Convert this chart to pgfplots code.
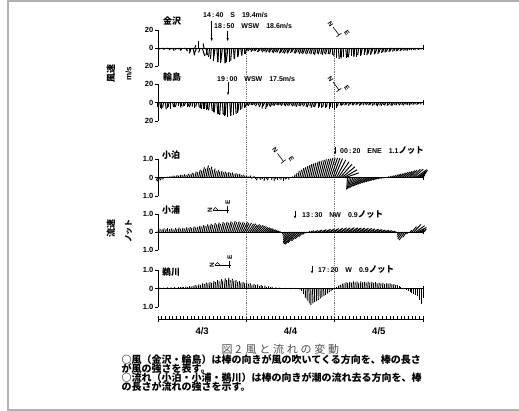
\documentclass[border=0pt]{standalone}
\usepackage{fontspec}
\usepackage{pgfplots}
\usepackage{pgfplotstable}
\pgfplotsset{compat=1.18}
\usetikzlibrary{arrows.meta}
\setmainfont{Liberation Sans}
\newfontfamily\jp{Noto Sans CJK JP}
\definecolor{framegray}{gray}{0.7}
\definecolor{dashgray}{gray}{0.45}
\definecolor{capgray}{gray}{0.3}

% t [h from 4/3 0:00], u (display east-west comp.), v (display north-south comp.)
\pgfplotstableread[row sep=\\]{
t u v\\
0 0.5 -1\\ 0.5 -0.5 -1.5\\ 1 1 -0.8\\ 1.5 0.5 -2\\ 2 -1 -1.2\\ 2.5 1 -1\\ 3 0.5 -2.5\\ 3.5 -0.5 -1.5\\
4 1.5 -3\\ 4.5 0.5 -1\\ 5 -1 -2\\ 5.5 1 -1.5\\ 6 0.5 -3\\ 6.5 -1 -2.5\\ 7 1 -1\\ 7.5 2 -3.5\\
8 -1 -2\\ 8.5 1 -4\\ 9 -2 -6\\ 9.5 2 -8\\ 10 1 3\\ 10.5 -3 -7\\ 11 0 7.5\\ 11.5 -2 -5\\
12 3 -9\\ 12.5 -1 5\\ 13 2 -8\\ 13.5 -2 -8\\ 14 -1 -10\\ 14.5 -1 -12\\ 15 0 -13.5\\ 15.5 -2 -14.5\\
16 1 -15.5\\ 16.5 -1 -16\\ 17 0 -16.5\\ 17.5 -2 -16.5\\ 18 1 -17\\ 18.5 -1 -16.5\\ 19 -2 -16\\ 19.5 0 -15.5\\
20 -1 -14\\ 20.5 1 -12.5\\ 21 -1 -11.5\\ 21.5 0 -10.5\\ 22 -1 -9.5\\ 22.5 1 -8.5\\ 23 -1 -8\\ 23.5 0 -7\\
24 -1 -6.5\\ 24.5 -2 -3\\ 25 -2.5 -3.5\\ 25.5 -1.5 -2.5\\ 26 -3 -4\\ 26.5 -2 -3\\ 27 -3 -3.5\\ 27.5 -2 -4.5\\
28 -3.5 -4\\ 28.5 -2 -3\\ 29 -3 -4.5\\ 29.5 -2.5 -3.5\\ 30 -3 -5\\ 30.5 -2 -4\\ 31 -3.5 -5\\ 31.5 -2 -4.5\\
32 -3 -5.5\\ 32.5 -2.5 -4.5\\ 33 -3 -5\\ 33.5 -2 -6\\ 34 -3 -5\\ 34.5 -2.5 -5.5\\ 35 -3 -6\\ 35.5 -2 -5\\
36 -3.5 -6\\ 36.5 -2 -5.5\\ 37 -3 -4.5\\ 37.5 -2 -5.5\\ 38 -3 -6\\ 38.5 -2 -5\\ 39 -2.5 -6.5\\ 39.5 -2 -5.5\\
40 -3 -6.5\\ 40.5 -2 -6\\ 41 -2.5 -7\\ 41.5 -1.5 -6\\ 42 -2 -7\\ 42.5 -1 -6.5\\ 43 -2 -7.5\\ 43.5 -1 -6\\
44 -2 -7\\ 44.5 -1 -6.5\\ 45 -1.5 -7.5\\ 45.5 -1 -6\\ 46 -2 -7\\ 46.5 -1 -6.5\\ 47 -1.5 -7\\ 47.5 0 -8\\
48 -1 -9\\ 48.5 0 -11\\ 49 1 -12\\ 49.5 0 -10.5\\ 50 -1 -11.5\\ 50.5 0 -10\\ 51 1 -11\\ 51.5 0 -9.5\\
52 -1 -10.5\\ 52.5 0 -9\\ 53 1 -10\\ 53.5 -1 -8.5\\ 54 0 -9.5\\ 54.5 -1 -8\\ 55 0 -9\\ 55.5 -1.5 -7.5\\
56 0 -8\\ 56.5 -2 -7\\ 57 -1 -8\\ 57.5 -2 -6.5\\ 58 -1 -7.5\\ 58.5 -2.5 -6\\ 59 -1 -7\\ 59.5 -2 -6\\
60 -1 -6.5\\ 60.5 -2 -5\\ 61 -1 -5.5\\ 61.5 -2 -4.5\\ 62 -1.5 -5\\ 62.5 -2 -4\\ 63 -1 -4.5\\ 63.5 -2 -3.5\\
64 -1 -4\\ 64.5 -1.5 -3\\ 65 -1 -3.5\\ 65.5 -2 -3\\ 66 -1 -3.5\\ 66.5 -1.5 -2.5\\ 67 -1 -3\\ 67.5 -1 -2.5\\
68 -1.5 -3\\ 68.5 -1 -2\\ 69 -1 -2.5\\ 69.5 -0.5 -2\\ 70 -1 -2.5\\ 70.5 -0.5 -1.5\\ 71 -1 -2\\ 71.5 -0.5 -1.5\\
72 -0.5 -1\\
}\tabK

\pgfplotstableread[row sep=\\]{
t u v\\
0 0 -5\\ 0.5 1 -6\\ 1 0 -7\\ 1.5 -1 -5.5\\ 2 1 -7.5\\ 2.5 0 -6\\ 3 -1 -5\\ 3.5 0 -6.5\\
4 1 -5\\ 4.5 0 -4.5\\ 5 -1 -5\\ 5.5 0 -4\\ 6 1 -5.5\\ 6.5 0 -4\\ 7 -1 -4.5\\ 7.5 -1.5 -3.5\\
8 0 -5\\ 8.5 -1 -4\\ 9 -2 -5\\ 9.5 -1 -4.5\\ 10 0 -6\\ 10.5 -1 -4.5\\ 11 1 -5.5\\ 11.5 0 -6\\
12 -1 -7\\ 12.5 0 -6.5\\ 13 1 -8\\ 13.5 0 -7\\ 14 -1 -8.5\\ 14.5 1 -9\\ 15 0 -10.5\\ 15.5 -1 -11\\
16 1 -12.5\\ 16.5 0 -12\\ 17 -1 -13.5\\ 17.5 1 -13\\ 18 0 -14.5\\ 18.5 -1 -14\\ 19 0 -15.5\\ 19.5 1 -14\\
20 -1 -14.5\\ 20.5 0 -13\\ 21 1 -12.5\\ 21.5 0 -11\\ 22 -1 -9.5\\ 22.5 0 -8\\ 23 -1 -6.5\\ 23.5 0 -5.5\\
24 -1 -5\\ 24.5 -1.5 -3\\ 25 -2 -3.5\\ 25.5 -1 -2.5\\ 26 -2 -3\\ 26.5 -1.5 -2.5\\ 27 -2 -4\\ 27.5 -1 -3\\
28 -2 -5\\ 28.5 -1 -6.5\\ 29 -2 -4\\ 29.5 -1 -7\\ 30 -2 -5\\ 30.5 -1 -3.5\\ 31 -2 -4.5\\ 31.5 -1.5 -3\\
32 -2 -3.5\\ 32.5 -1 -2.5\\ 33 -2 -3\\ 33.5 -1.5 -2.5\\ 34 -2 -3.5\\ 34.5 -1 -3\\ 35 -2 -4\\ 35.5 -1.5 -3\\
36 -2 -3.5\\ 36.5 -1 -3\\ 37 -2 -4\\ 37.5 -1.5 -3.5\\ 38 -2 -4.5\\ 38.5 -1 -3.5\\ 39 -2 -4\\ 39.5 -1.5 -3\\
40 -2 -4\\ 40.5 -1 -4.5\\ 41 -2 -5\\ 41.5 -1 -4\\ 42 -1.5 -5.5\\ 42.5 -1 -4.5\\ 43 -2 -5\\ 43.5 0 -6\\
44 -1 -4.5\\ 44.5 0 -5.5\\ 45 -1 -5\\ 45.5 0 -6\\ 46 -1 -5\\ 46.5 0 -6.5\\ 47 -1 -5\\ 47.5 0 -6\\
48 0 -8\\ 48.5 0 -6\\ 49 -1 -4\\ 49.5 0 -3\\ 50 -1 -3.5\\ 50.5 -1.5 -2.5\\ 51 -1 -3\\ 51.5 -2 -2.5\\
52 -1 -3.5\\ 52.5 -1.5 -2\\ 53 -1 -3\\ 53.5 -2 -2.5\\ 54 -1 -3\\ 54.5 -1.5 -2\\ 55 -1 -3.5\\ 55.5 -2 -2.5\\
56 -1 -3\\ 56.5 -1 -2\\ 57 -1.5 -2.5\\ 57.5 -1 -3\\ 58 -2 -2.5\\ 58.5 -1 -3.5\\ 59 -1.5 -2.5\\ 59.5 -1 -3\\
60 -2 -4\\ 60.5 -1 -3\\ 61 -1.5 -3.5\\ 61.5 -1 -2.5\\ 62 -2 -3\\ 62.5 -1 -3.5\\ 63 -1.5 -2.5\\ 63.5 -1 -3\\
64 -2 -3.5\\ 64.5 -1 -2.5\\ 65 -1.5 -3\\ 65.5 -1 -2\\ 66 -2 -3\\ 66.5 -1 -2.5\\ 67 -1.5 -3\\ 67.5 -1 -2\\
68 -1.5 -2.5\\ 68.5 -1 -3\\ 69 -1.5 -2\\ 69.5 -1 -2.5\\ 70 -1 -2\\ 70.5 -0.5 -2.5\\ 71 -1 -1.5\\ 71.5 -0.5 -2\\
72 0 -1\\
}\tabW

\pgfplotstableread[row sep=\\]{
t u v\\
0 -0.1 -0.15\\ 0.5 -0.15 -0.2\\ 1 -0.1 -0.15\\ 1.5 -0.05 -0.1\\ 2 0 -0.05\\ 2.5 0.02 0.03\\ 3 0.03 0.05\\ 3.5 0.02 0.06\\
4 0.03 0.1\\ 4.5 0.02 0.08\\ 5 0.04 0.12\\ 5.5 0.03 0.1\\ 6 0.05 0.15\\ 6.5 0.03 0.12\\ 7 0.05 0.17\\ 7.5 0.04 0.14\\
8 0.06 0.2\\ 8.5 0.05 0.17\\ 9 0.07 0.25\\ 9.5 0.05 0.22\\ 10 0.08 0.32\\ 10.5 0.06 0.28\\ 11 0.1 0.42\\ 11.5 0.08 0.36\\
12 0.12 0.55\\ 12.5 0.1 0.48\\ 13 0.14 0.65\\ 13.5 0.1 0.52\\ 14 0.12 0.58\\ 14.5 0.08 0.42\\ 15 0.1 0.48\\ 15.5 0.07 0.36\\
16 0.09 0.4\\ 16.5 0.06 0.32\\ 17 0.08 0.36\\ 17.5 0.06 0.28\\ 18 0.07 0.32\\ 18.5 0.05 0.26\\ 19 0.06 0.3\\ 19.5 0.05 0.24\\
20 0.06 0.27\\ 20.5 0.04 0.2\\ 21 0.05 0.23\\ 21.5 0.04 0.18\\ 22 0.05 0.2\\ 22.5 0.03 0.14\\ 23 0.04 0.15\\ 23.5 0.02 0.1\\
24 0.02 0.08\\ 24.5 0.02 0.05\\ 25 0.05 0.1\\ 25.5 -0.03 -0.05\\ 26 0.03 0.08\\ 26.5 0 -0.1\\ 27 -0.05 -0.15\\ 27.5 0.02 -0.05\\
28 -0.03 -0.12\\ 28.5 0 -0.08\\ 29 -0.04 -0.18\\ 29.5 0.02 -0.1\\ 30 -0.05 -0.15\\ 30.5 0 -0.05\\ 31 -0.03 -0.12\\ 31.5 0.02 -0.2\\
32 -0.02 -0.08\\ 32.5 0 -0.15\\ 33 0.02 -0.05\\ 33.5 -0.03 -0.12\\ 34 0 -0.18\\ 34.5 0.03 -0.1\\ 35 -0.02 -0.06\\ 35.5 0.02 -0.12\\
36 0 -0.05\\ 36.5 0.03 0.05\\ 37 0.05 0.15\\ 37.5 0.06 0.25\\ 38 0.08 0.35\\ 38.5 0.1 0.42\\ 39 0.12 0.5\\ 39.5 0.12 0.55\\
40 0.14 0.62\\ 40.5 0.15 0.66\\ 41 0.16 0.72\\ 41.5 0.17 0.76\\ 42 0.18 0.8\\ 42.5 0.2 0.85\\ 43 0.2 0.88\\ 43.5 0.22 0.92\\
44 0.24 0.95\\ 44.5 0.25 0.98\\ 45 0.27 1.0\\ 45.5 0.28 1.02\\ 46 0.3 1.05\\ 46.5 0.32 1.05\\ 47 0.35 1.06\\ 47.5 0.38 1.04\\
48 0.42 1.02\\ 48.5 0.5 0.95\\ 49 0.58 0.85\\ 49.5 0.64 0.72\\ 50 0.7 0.58\\ 50.5 0.72 0.42\\ 51 0.7 0.25\\ 51.5 -0.05 -0.65\\
52 -0.12 -0.62\\ 52.5 -0.18 -0.6\\ 53 -0.22 -0.56\\ 53.5 -0.25 -0.54\\ 54 -0.28 -0.5\\ 54.5 -0.3 -0.47\\ 55 -0.32 -0.44\\ 55.5 -0.33 -0.4\\
56 -0.34 -0.37\\ 56.5 -0.34 -0.34\\ 57 -0.33 -0.3\\ 57.5 -0.32 -0.27\\ 58 -0.3 -0.24\\ 58.5 -0.28 -0.2\\ 59 -0.25 -0.17\\ 59.5 -0.22 -0.14\\
60 -0.18 -0.1\\ 60.5 -0.14 -0.07\\ 61 -0.1 -0.05\\ 61.5 -0.05 -0.03\\ 62 0.02 0.02\\ 62.5 0.05 0.05\\ 63 0.08 0.08\\ 63.5 0.11 0.1\\
64 0.14 0.13\\ 64.5 0.17 0.16\\ 65 0.2 0.19\\ 65.5 0.23 0.22\\ 66 0.26 0.25\\ 66.5 0.28 0.28\\ 67 0.3 0.31\\ 67.5 0.32 0.34\\
68 0.35 0.37\\ 68.5 0.37 0.4\\ 69 0.45 0.45\\ 69.5 0.5 0.45\\ 70 0.6 0.42\\ 70.5 0.55 0.38\\ 71 0.4 0.32\\ 71.5 0.25 0.25\\
72 0.1 0.15\\
}\tabP

\pgfplotstableread[row sep=\\]{
t u v\\
0 0.03 0.12\\ 0.5 0.02 0.18\\ 1 0.04 0.14\\ 1.5 0.03 0.2\\ 2 0.05 0.15\\ 2.5 0.02 0.22\\ 3 0.04 0.16\\ 3.5 0.05 0.2\\
4 0.03 0.14\\ 4.5 0.06 0.22\\ 5 0.04 0.17\\ 5.5 0.05 0.24\\ 6 0.03 0.18\\ 6.5 0.06 0.23\\ 7 0.04 0.19\\ 7.5 0.07 0.26\\
8 0.05 0.2\\ 8.5 0.06 0.27\\ 9 0.04 0.22\\ 9.5 0.07 0.3\\ 10 0.05 0.25\\ 10.5 0.06 0.28\\ 11 0.08 0.34\\ 11.5 0.06 0.3\\
12 0.09 0.38\\ 12.5 0.07 0.33\\ 13 0.1 0.42\\ 13.5 0.08 0.36\\ 14 0.1 0.45\\ 14.5 0.08 0.4\\ 15 0.12 0.5\\ 15.5 0.1 0.42\\
16 0.13 0.52\\ 16.5 0.1 0.45\\ 17 0.15 0.55\\ 17.5 0.12 0.48\\ 18 0.16 0.56\\ 18.5 0.14 0.5\\ 19 0.18 0.58\\ 19.5 0.15 0.52\\
20 0.2 0.6\\ 20.5 0.18 0.54\\ 21 0.22 0.58\\ 21.5 0.2 0.52\\ 22 0.24 0.56\\ 22.5 0.22 0.5\\ 23 0.26 0.54\\ 23.5 0.24 0.48\\
24 0.28 0.5\\ 24.5 0.3 0.45\\ 25 0.32 0.46\\ 25.5 0.3 0.4\\ 26 0.33 0.42\\ 26.5 0.3 0.36\\ 27 0.32 0.37\\ 27.5 0.3 0.32\\
28 0.3 0.3\\ 28.5 0.28 0.26\\ 29 0.28 0.24\\ 29.5 0.26 0.2\\ 30 0.25 0.18\\ 30.5 0.22 0.14\\ 31 0.2 0.12\\ 31.5 0.17 0.09\\
32 0.14 0.06\\ 32.5 0.1 0.04\\ 33 0.06 0.02\\ 33.5 0 -0.03\\ 34 -0.05 -0.1\\ 34.5 -0.12 -0.2\\ 35 -0.2 -0.32\\ 35.5 -0.3 -0.45\\
36 -0.4 -0.55\\ 36.5 -0.5 -0.62\\ 37 -0.55 -0.66\\ 37.5 -0.6 -0.68\\ 38 -0.55 -0.6\\ 38.5 -0.45 -0.5\\ 39 -0.35 -0.38\\ 39.5 -0.25 -0.26\\
40 -0.15 -0.14\\ 40.5 -0.08 -0.06\\ 41 0.05 0.04\\ 41.5 0.1 0.06\\ 42 0.08 0.08\\ 42.5 0.12 0.05\\ 43 0.1 0.1\\ 43.5 0.15 0.08\\
44 0.12 0.12\\ 44.5 0.18 0.1\\ 45 0.15 0.14\\ 45.5 0.2 0.12\\ 46 0.18 0.16\\ 46.5 0.22 0.13\\ 47 0.2 0.18\\ 47.5 0.25 0.15\\
48 0.22 0.2\\ 48.5 0.26 0.16\\ 49 0.24 0.22\\ 49.5 0.28 0.18\\ 50 0.25 0.24\\ 50.5 0.3 0.2\\ 51 0.26 0.24\\ 51.5 0.3 0.2\\
52 0.27 0.25\\ 52.5 0.32 0.21\\ 53 0.28 0.24\\ 53.5 0.3 0.2\\ 54 0.26 0.23\\ 54.5 0.3 0.19\\ 55 0.25 0.22\\ 55.5 0.28 0.18\\
56 0.24 0.21\\ 56.5 0.27 0.17\\ 57 0.22 0.2\\ 57.5 0.25 0.16\\ 58 0.2 0.18\\ 58.5 0.24 0.14\\ 59 0.2 0.16\\ 59.5 0.22 0.12\\
60 0.18 0.14\\ 60.5 0.2 0.1\\ 61 0.16 0.12\\ 61.5 0.18 0.08\\ 62 0.14 0.1\\ 62.5 0.15 0.06\\ 63 0.12 0.08\\ 63.5 0.1 0.04\\
64 0.08 0.05\\ 64.5 0.05 0.02\\ 65 0 -0.05\\ 65.5 -0.1 -0.15\\ 66 -0.2 -0.28\\ 66.5 -0.28 -0.4\\ 67 -0.3 -0.45\\ 67.5 -0.2 -0.3\\
68 -0.1 -0.12\\ 68.5 0.1 0.1\\ 69 0.25 0.3\\ 69.5 0.4 0.42\\ 70 0.5 0.35\\ 70.5 0.5 0.25\\ 71 0.4 0.15\\ 71.5 0.25 0.08\\
72 0.1 0.03\\
}\tabU

\pgfplotstableread[row sep=\\]{
t u v\\
0 0 0.03\\ 0.5 0.01 0.05\\ 1 0 0.02\\ 1.5 0.01 0.04\\ 2 0 0.03\\ 2.5 0.01 0.06\\ 3 0 0.04\\ 3.5 0.01 0.06\\
4 0 0.03\\ 4.5 0.01 0.07\\ 5 0 0.05\\ 5.5 0.01 0.08\\ 6 0 0.06\\ 6.5 0.01 0.09\\ 7 0 0.07\\ 7.5 0.02 0.1\\
8 0 0.08\\ 8.5 0.02 0.12\\ 9 0.01 0.1\\ 9.5 0.01 0.14\\ 10 0.02 0.18\\ 10.5 0.01 0.15\\ 11 0.02 0.22\\ 11.5 0.01 0.2\\
12 0.03 0.28\\ 12.5 0.02 0.24\\ 13 0.03 0.32\\ 13.5 0.02 0.28\\ 14 0.03 0.35\\ 14.5 0.01 0.3\\ 15 0.04 0.4\\ 15.5 0.02 0.34\\
16 0.04 0.45\\ 16.5 0.02 0.38\\ 17 0.05 0.5\\ 17.5 0.02 0.42\\ 18 0.06 0.55\\ 18.5 0.03 0.45\\ 19 0.05 0.58\\ 19.5 0.02 0.46\\
20 0.04 0.52\\ 20.5 0.02 0.42\\ 21 0.04 0.46\\ 21.5 0.02 0.36\\ 22 0.03 0.4\\ 22.5 0.01 0.32\\ 23 0.03 0.36\\ 23.5 0.01 0.28\\
24 0.02 0.32\\ 24.5 0.01 0.25\\ 25 0.02 0.28\\ 25.5 0.01 0.2\\ 26 0.02 0.24\\ 26.5 0 0.18\\ 27 0.02 0.22\\ 27.5 0 0.15\\
28 0.01 0.18\\ 28.5 0 0.12\\ 29 0.01 0.15\\ 29.5 0 0.1\\ 30 0.01 0.12\\ 30.5 0 0.07\\ 31 0.01 0.09\\ 31.5 0 0.05\\
32 0.01 0.06\\ 32.5 0 0.03\\ 33 0.01 0.04\\ 33.5 0.02 0.02\\ 34 0.01 -0.02\\ 34.5 0.02 0.03\\ 35 0 -0.02\\ 35.5 0.02 0.02\\
36 0.01 -0.03\\ 36.5 0.02 0.02\\ 37 0 -0.02\\ 37.5 0.01 0.01\\ 38 0 -0.03\\ 38.5 0.01 -0.05\\ 39 0 -0.15\\ 39.5 0 -0.3\\
40 0.01 -0.5\\ 40.5 0.01 -0.65\\ 41 0.02 -0.8\\ 41.5 0.01 -0.88\\ 42 0.02 -0.81\\ 42.5 0.01 -0.74\\ 43 0.02 -0.68\\ 43.5 0.01 -0.61\\
44 0.02 -0.54\\ 44.5 0.01 -0.47\\ 45 0.02 -0.41\\ 45.5 0.01 -0.34\\ 46 0.02 -0.27\\ 46.5 0.01 -0.2\\ 47 0.01 -0.14\\ 47.5 0 -0.07\\
48 0 -0.02\\ 48.5 0.01 0.08\\ 49 0.02 0.15\\ 49.5 0.01 0.2\\ 50 0.02 0.26\\ 50.5 0.01 0.28\\ 51 0.02 0.33\\ 51.5 0.01 0.3\\
52 0.02 0.36\\ 52.5 0.01 0.32\\ 53 0.02 0.38\\ 53.5 0.01 0.33\\ 54 0.02 0.37\\ 54.5 0.01 0.32\\ 55 0.02 0.38\\ 55.5 0.01 0.33\\
56 0.02 0.36\\ 56.5 0.01 0.32\\ 57 0.02 0.37\\ 57.5 0.01 0.32\\ 58 0.02 0.36\\ 58.5 0.01 0.3\\ 59 0.02 0.34\\ 59.5 0.01 0.28\\
60 0.02 0.32\\ 60.5 0.01 0.26\\ 61 0.02 0.3\\ 61.5 0.01 0.24\\ 62 0.02 0.28\\ 62.5 0.01 0.26\\ 63 0.02 0.28\\ 63.5 0.01 0.22\\
64 0.02 0.24\\ 64.5 0.01 0.18\\ 65 0.01 0.18\\ 65.5 0 0.12\\ 66 0 0.1\\ 66.5 0 0.05\\ 67 0 -0.05\\ 67.5 0 -0.1\\
68 0 -0.14\\ 68.5 0 -0.18\\ 69 0 -0.23\\ 69.5 0 -0.28\\ 70 0 -0.33\\ 70.5 0 -0.4\\ 71 0 -0.6\\ 71.5 0 -0.85\\
72 0 -0.5\\
}\tabG

\pgfplotsset{
  panel/.style={
    scale only axis, width=265pt, xmin=0, xmax=72, clip=false,
    axis x line=none, axis y line=left, xtick=\empty,
    axis line style={-, line width=0.8pt},
    tick style={line width=0.8pt, black},
    tick align=outside, major tick length=3.5pt,
    yticklabel style={font=\bfseries\fontsize{7.5}{7.5}\selectfont, inner sep=1pt},
    /pgf/number format/assume math mode=true,
    anchor=south west,
  },
  windpanel/.style={panel, ymin=-20, ymax=20, ytick={-20,0,20}, yticklabels={20,0,20}},
  curpanel/.style={panel, ymin=-1, ymax=1, ytick={-1,0,1}, yticklabels={1.0,0,1.0}},
  stick/.style={black, line width=1.05pt},
  cstick/.style={black, line width=0.95pt},
}
\newcommand\zeroline{%
  \draw[line width=0.8pt] (axis cs:0,0) -- (axis cs:72,0);
  \draw[line width=0.8pt] ([yshift=-2.5pt]axis cs:72,0) -- ([yshift=2.5pt]axis cs:72,0);}
\newcommand\windrose[2]{%
  \begin{scope}[shift={(#1pt,#2pt)}, line width=0.6pt]
   \draw (0,0) -- (-6pt,8pt);
   \draw (-2.4pt,-1.8pt) -- (2.4pt,1.8pt);
   \node[rotate=-55, inner sep=0, font=\bfseries\fontsize{6.5}{6.5}\selectfont] at (-8.5pt,11pt) {N};
   \node[rotate=-55, inner sep=0, font=\bfseries\fontsize{6.5}{6.5}\selectfont] at (8pt,2pt) {E};
  \end{scope}}
\newcommand\currose[2]{%
  \begin{scope}[shift={(#1pt,#2pt)}, line width=0.6pt]
   \draw (-14pt,0) -- (0,0);
   \draw (-9pt,0) -- (-11.5pt,2.5pt) -- (-14pt,0);
   \draw (0,-3pt) -- (0,4pt);
   \draw (-2pt,0) -- (2pt,0);
   \node[rotate=90, inner sep=0, font=\bfseries\fontsize{6.5}{6.5}\selectfont] at (-17pt,0) {N};
   \node[rotate=90, inner sep=0, font=\bfseries\fontsize{6.5}{6.5}\selectfont] at (1pt,8pt) {E};
  \end{scope}}

\begin{document}
\begin{tikzpicture}[x=1pt,y=1pt]
\useasboundingbox (0,0) rectangle (519,411);
% frame
\draw[framegray, line width=1.3pt] (519,410) -- (8,410) -- (8,1) -- (519,1);

% base axis: time axis and day separators
\begin{axis}[scale only axis, width=265pt, height=271pt, at={(158pt,92pt)}, anchor=south west,
  xmin=0, xmax=72, ymin=0, ymax=1, axis y line=none, axis x line*=bottom,
  axis line style={-, line width=0.8pt},
  xtick={0,24,48,72}, xticklabels={}, minor x tick num=23,
  xtick align=center, major tick length=6pt, minor tick length=2.5pt,
  every minor tick/.append style={yshift=1.25pt},
  tick style={line width=0.7pt, black},
  extra x ticks={12,36,60}, extra x tick labels={4/3,4/4,4/5},
  extra x tick style={major tick length=0pt, tick label style={font=\bfseries\fontsize{9.5}{9.5}\selectfont, yshift=-5pt}}]
\draw[dashgray, line width=0.6pt, dash pattern=on 1.2pt off 1pt] (axis cs:24,0) -- (axis cs:24,1);
\draw[dashgray, line width=0.6pt, dash pattern=on 1.2pt off 1pt] (axis cs:48,0) -- (axis cs:48,1);
\end{axis}

% Kanazawa wind
\begin{axis}[windpanel, height=36pt, at={(158pt,345pt)}]
\zeroline
\addplot[stick, quiver={u={\thisrow{u}*0.2446}, v={\thisrow{v}}}] table[x=t, y expr=0] {\tabK};
\end{axis}
% Wajima wind
\begin{axis}[windpanel, height=37pt, at={(158pt,290pt)}]
\zeroline
\addplot[stick, quiver={u={\thisrow{u}*0.251}, v={\thisrow{v}}}] table[x=t, y expr=0] {\tabW};
\end{axis}
% Kodomari current
\begin{axis}[curpanel, height=37pt, at={(158pt,215pt)}]
\zeroline
\addplot[cstick, quiver={u={\thisrow{u}*5.03}, v={\thisrow{v}}}] table[x=t, y expr=0] {\tabP};
\end{axis}
% Koura current
\begin{axis}[curpanel, height=36pt, at={(158pt,161pt)}]
\zeroline
\addplot[cstick, quiver={u={\thisrow{u}*4.9}, v={\thisrow{v}}}] table[x=t, y expr=0] {\tabU};
\end{axis}
% Ukawa current
\begin{axis}[curpanel, height=37pt, at={(158pt,104pt)}]
\zeroline
\addplot[cstick, quiver={u={\thisrow{u}*5.03}, v={\thisrow{v}}}] table[x=t, y expr=0] {\tabG};
\end{axis}

% panel names
\begin{scope}[every node/.style={anchor=west, inner sep=0, font=\jp\bfseries\fontsize{9}{9}\selectfont}]
\node at (163,389.5) {金沢};
\node at (163,334) {輪島};
\node at (162,255.5) {小泊};
\node at (162,201) {小浦};
\node at (162,139) {鵜川};
\end{scope}

% axis titles
\node[rotate=90, inner sep=0, font=\jp\bfseries\fontsize{9}{9}\selectfont] at (111,337) {風速};
\node[rotate=90, inner sep=0, font=\bfseries\fontsize{8}{8}\selectfont] at (128.5,337) {m/s};
\node[rotate=90, inner sep=0, font=\jp\bfseries\fontsize{9}{9}\selectfont] at (111,182.5) {流速};
\node[rotate=90, inner sep=0, font=\jp\bfseries\fontsize{8}{8}\selectfont] at (128.5,180) {ノット};

% annotations
\begin{scope}[every node/.style={anchor=west, inner sep=0, font=\bfseries\fontsize{7}{7}\selectfont}]
\node at (203,396) {14\,:\,40\quad S\quad 19.4m/s};
\node at (214,385.3) {18\,:\,50\quad WSW\quad 18.6m/s};
\node at (217,331.7) {19\,:\,00\quad WSW\quad 17.5m/s};
\node at (340,260.3) {00\,:\,20\quad ENE\quad 1.1{\jp\fontsize{8.5}{8.5}\selectfont ノット}};
\node at (302,196) {13\,:\,30\quad NW\quad 0.9{\jp\fontsize{8.5}{8.5}\selectfont ノット}};
\node at (318,141.7) {17\,:\,20\quad W\quad 0.9{\jp\fontsize{8.5}{8.5}\selectfont ノット}};
\end{scope}
\begin{scope}[line width=0.6pt, -{Stealth[length=3pt,width=2.4pt]}]
\draw (211.7,389.5) -- (211.7,370);
\draw (227.7,380) -- (227.7,370);
\draw (228,328.5) -- (228,316);
\draw (335,263.5) -- (335,256.5);
\draw (295,199.5) -- (295,192.5);
\draw (312,145) -- (312,137.5);
\end{scope}

% compass roses
\windrose{339}{376}
\windrose{339}{321}
\windrose{283.5}{249.5}
\currose{227}{201}
\currose{229}{146}

% caption and notes
\node[anchor=west, inner sep=0, text=capgray, font=\jp\fontsize{11}{11}\selectfont\addfontfeature{LetterSpace=25}] at (221.5,62) {図2\hspace{4pt}風と流れの変動};
\begin{scope}[every node/.style={anchor=west, inner sep=0, font=\jp\bfseries\fontsize{10}{10}\selectfont}]
\node at (121.5,51) {○風（金沢・輪島）は棒の向きが風の吹いてくる方向を、棒の長さ};
\node at (121.5,42) {が風の強さを表す。};
\node at (121.5,33) {○流れ（小泊・小浦・鵜川）は棒の向きが潮の流れ去る方向を、棒};
\node at (121.5,24.3) {の長さが流れの強さを示す。};
\end{scope}
\end{tikzpicture}
\end{document}
